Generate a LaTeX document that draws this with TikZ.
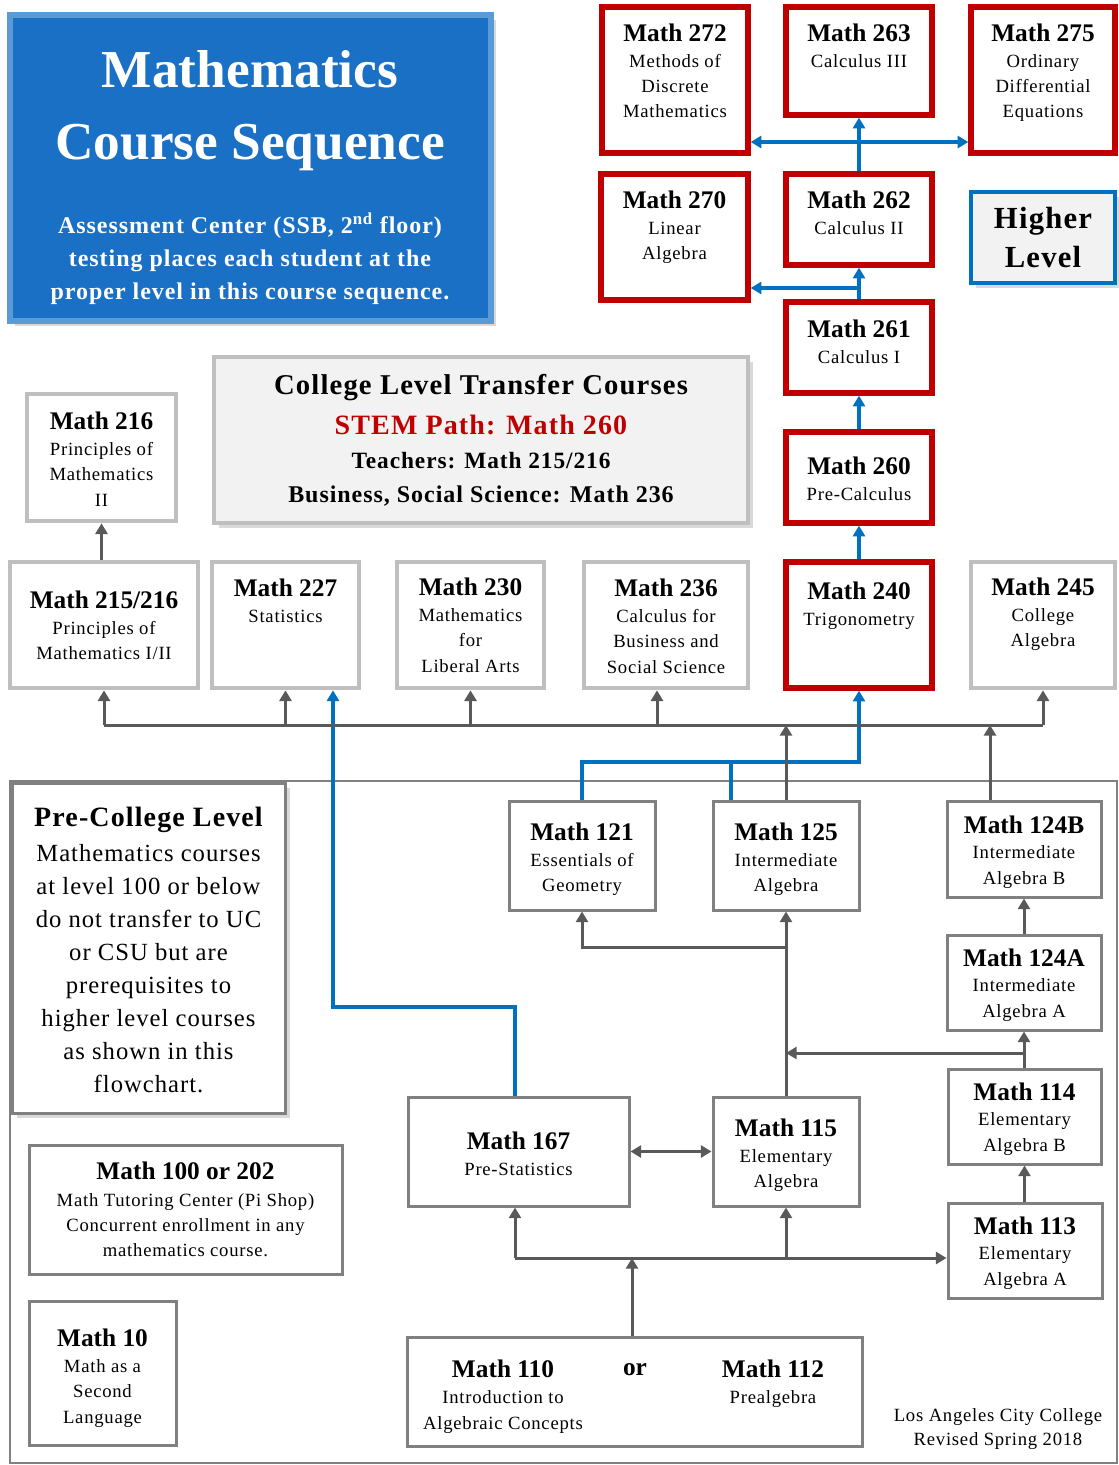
\documentclass[tikz,border=0pt]{standalone}
\usepackage{fontspec}
\setmainfont{Liberation Serif}[LetterSpace=4.0]
\newfontfamily\tightserif{Liberation Serif}
\usetikzlibrary{positioning, arrows.meta, fit, shadows}

\definecolor{lacred}{HTML}{C00000}
\definecolor{lacblue}{HTML}{0070C0}
\definecolor{titleblue}{HTML}{1A70C4}
\definecolor{rimblue}{HTML}{5B9BD5}
\definecolor{linegray}{HTML}{595959}
\definecolor{rimgray}{HTML}{BFBFBF}
\definecolor{boxgray}{HTML}{808080}
\definecolor{panelgray}{HTML}{F2F2F2}
\newdimen\px \px=0.75pt
\newcommand{\crs}[1]{{\fontsize{19}{21}\tightserif\bfseries #1}}

\begin{document}
\begin{tikzpicture}[x=0.75pt, y=-0.75pt, >={Triangle[width=9pt,length=8pt]},
  redbox/.style={draw=lacred, line width=4pt, fill=white, inner sep=0pt},
  greybox/.style={draw=rimgray, line width=3.5pt, fill=white, inner sep=0pt},
  lowbox/.style={draw=boxgray, line width=2.25pt, fill=white, inner sep=0pt},
  panel/.style={fill=panelgray, inner sep=0pt, drop shadow={shadow xshift=4pt, shadow yshift=-4pt, opacity=0.3}},
  txt/.style={align=center, inner sep=0pt, font=\fontsize{14}{19}\selectfont},
  gline/.style={draw=linegray, line width=2.25pt},
  bline/.style={draw=lacblue, line width=2.5pt}]

\useasboundingbox (0,0) rectangle (1119,1465);

% pre-college frame
\draw[boxgray, line width=1.8pt] (10,781) rectangle (1117,1463);

% title block
\node[panel, fill=titleblue, draw=rimblue, line width=5pt, fit={(10,15) (491,321)}] (head) {};
\node[txt, text=white, font=\fontsize{40}{54}\tightserif\bfseries] (headt) at (250,111) {Mathematics\\Course Sequence};
\node[txt, text=white, font=\fontsize{18}{25}\selectfont\bfseries] (heads) at (250,259) {Assessment Center (SSB, 2\textsuperscript{nd} floor)\\testing places each student at the\\proper level in this course sequence.};

% higher level
\node[redbox, fit={(602,7) (748,153)}] (m272) {};
\node[txt, below=19\px of m272.north] (m272t) {\crs{Math 272}\\[0.5pt]Methods of\\Discrete\\Mathematics};
\node[redbox, fit={(786,7) (932,115)}] (m263) {};
\node[txt, below=19\px of m263.north] (m263t) {\crs{Math 263}\\[0.5pt]Calculus III};
\node[redbox, fit={(971,7) (1115,153)}] (m275) {};
\node[txt, below=19\px of m275.north] (m275t) {\crs{Math 275}\\[0.5pt]Ordinary\\Differential\\Equations};
\node[redbox, fit={(601,174) (748,300)}] (m270) {};
\node[txt, below=19\px of m270.north] (m270t) {\crs{Math 270}\\[0.5pt]Linear\\Algebra};
\node[redbox, fit={(786,174) (932,265)}] (m262) {};
\node[txt, below=19\px of m262.north] (m262t) {\crs{Math 262}\\[0.5pt]Calculus II};
\node[panel, draw=lacblue, line width=3.5pt, fit={(971,192) (1115,283)}] (high) {};
\node[txt, font=\fontsize{23}{29}\selectfont\bfseries] (hight) at (high) {Higher\\Level};
\node[redbox, fit={(786,302) (932,393)}] (m261) {};
\node[txt, below=20\px of m261.north] (m261t) {\crs{Math 261}\\[0.5pt]Calculus I};
\node[redbox, fit={(786,432) (932,523)}] (m260) {};
\node[txt, below=27\px of m260.north] (m260t) {\crs{Math 260}\\[0.5pt]Pre-Calculus};
\node[redbox, fit={(786,562) (932,688)}] (m240) {};
\node[txt, below=22\px of m240.north] (m240t) {\crs{Math 240}\\[0.5pt]Trigonometry};

% college level
\node[greybox, fit={(27,394) (176,521)}] (m216) {};
\node[txt, below=20\px of m216.north] (m216t) {\crs{Math 216}\\[0.5pt]Principles of\\Mathematics\\II};
\node[panel, draw=rimgray, line width=3.5pt, fit={(214,357) (748,523)}] (xfer) {};
\node[txt, font=\fontsize{18}{25}\selectfont\bfseries, below=19\px of xfer.north] (xfert) {{\fontsize{21.5}{25}\selectfont College Level Transfer Courses}\\[5pt]{\fontsize{21}{25}\selectfont\color{lacred}STEM Path: Math 260}\\[1pt]{\fontsize{17.5}{25}\selectfont Teachers: Math 215/216}\\Business, Social Science: Math 236};
\node[greybox, fit={(10,562) (198,688)}] (m215) {};
\node[txt, below=31\px of m215.north] (m215t) {\crs{Math 215/216}\\[0.5pt]Principles of\\Mathematics I/II};
\node[greybox, fit={(212,562) (359,688)}] (m227) {};
\node[txt, below=19\px of m227.north] (m227t) {\crs{Math 227}\\[0.5pt]Statistics};
\node[greybox, fit={(397,562) (544,688)}] (m230) {};
\node[txt, below=18\px of m230.north] (m230t) {\crs{Math 230}\\[0.5pt]Mathematics\\for\\Liberal Arts};
\node[greybox, fit={(584,562) (748,688)}] (m236) {};
\node[txt, below=19\px of m236.north] (m236t) {\crs{Math 236}\\[0.5pt]Calculus for\\Business and\\Social Science};
\node[greybox, fit={(971,562) (1115,688)}] (m245) {};
\node[txt, below=18\px of m245.north] (m245t) {\crs{Math 245}\\[0.5pt]College\\Algebra};

% pre-college level
\node[lowbox, panel, fill=white, fit={(12,783) (285,1113)}] (note) {};
\node[txt, font=\fontsize{18.5}{24.75}\selectfont, below=25\px of note.north] (notet) {{\fontsize{21}{25}\selectfont\bfseries Pre-College Level}\\[1.5pt]Mathematics courses\\at level 100 or below\\do not transfer to UC\\or CSU but are\\prerequisites to\\higher level courses\\as shown in this\\flowchart.};
\node[lowbox, fit={(29,1145) (342,1274)}] (m100) {};
\node[txt, font=\fontsize{14}{18.5}\selectfont, below=18\px of m100.north] (m100t) {\crs{Math 100 or 202}\\[2pt]Math Tutoring Center (Pi Shop)\\Concurrent enrollment in any\\mathematics course.};
\node[lowbox, fit={(29,1301) (176,1445)}] (m10) {};
\node[txt, below=29\px of m10.north] (m10t) {\crs{Math 10}\\[0.5pt]Math as a\\Second\\Language};
\node[lowbox, fit={(509,801) (655,910)}] (m121) {};
\node[txt, below=23\px of m121.north] (m121t) {\crs{Math 121}\\[0.5pt]Essentials of\\Geometry};
\node[lowbox, fit={(713,801) (859,910)}] (m125) {};
\node[txt, below=23\px of m125.north] (m125t) {\crs{Math 125}\\[0.5pt]Intermediate\\Algebra};
\node[lowbox, fit={(947,801) (1101,897)}] (m124b) {};
\node[txt, below=16\px of m124b.north] (m124bt) {\crs{Math 124B}\\Intermediate\\Algebra B};
\node[lowbox, fit={(947,935) (1101,1030)}] (m124a) {};
\node[txt, below=15\px of m124a.north] (m124at) {\crs{Math 124A}\\Intermediate\\Algebra A};
\node[lowbox, fit={(948,1069) (1101,1164)}] (m114) {};
\node[txt, below=15\px of m114.north] (m114t) {\crs{Math 114}\\Elementary\\Algebra B};
\node[lowbox, fit={(948,1203) (1102,1298)}] (m113) {};
\node[txt, below=15\px of m113.north] (m113t) {\crs{Math 113}\\Elementary\\Algebra A};
\node[lowbox, fit={(408,1097) (629,1206)}] (m167) {};
\node[txt, below=36\px of m167.north] (m167t) {\crs{Math 167}\\[0.5pt]Pre-Statistics};
\node[lowbox, fit={(713,1097) (859,1206)}] (m115) {};
\node[txt, below=23\px of m115.north] (m115t) {\crs{Math 115}\\[0.5pt]Elementary\\Algebra};
\node[lowbox, fit={(407,1337) (862,1446)}] (m110) {};
\node[txt, anchor=north] (m110t) at (503,1360) {\crs{Math 110}\\[0.5pt]Introduction to\\Algebraic Concepts};
\node[anchor=base, inner sep=0pt, font=\fontsize{19}{21}\tightserif\bfseries] (m110or) at (635,1375) {or};
\node[txt, anchor=north] (m112t) at (773,1360) {\crs{Math 112}\\[0.5pt]Prealgebra};
\node[txt, font=\fontsize{14}{18}\selectfont] (credit) at (998,1429) {Los Angeles City College\\Revised Spring 2018};

% junctions
\coordinate (hub) at (859,142);
\coordinate (lin) at (859,288);
\coordinate (bus) at (0,725);
\coordinate (stem) at (0,762);
\coordinate (geo) at (0,947);
\coordinate (stat) at (0,1007);
\coordinate (alg) at (0,1053);
\coordinate (pre) at (0,1258);
\coordinate (j227) at (333,0);
\coordinate (j236) at (657,0);
\coordinate (j167) at (515,0);
\coordinate (j110) at (632,0);
\coordinate (j125) at (731,0);
\coordinate (j124) at (990,0);

% STEM path
\draw[bline,->] (m240) -- (m260);
\draw[bline,->] (m260) -- (m261);
\draw[bline,->] (m261) -- (m262);
\draw[bline,->] (lin) -- (m270.east |- lin);
\draw[bline,->] (m262) -- (m263);
\draw[bline,<->] (m272.east |- hub) -- (m275.west |- hub);
\draw[bline,->] (m121.north) -- (m121.north |- stem) -- (m240.south |- stem) -- (m240.south);
\draw[bline] (m125.north -| j125) -- (stem -| j125);
\draw[bline,->] (m167.north -| j167) -- (stat -| j167) -- (stat -| j227) -- (m227.south -| j227);

% college bus
\draw[gline,->] (m215.north -| m216) -- (m216.south);
\draw[gline] (bus -| m215) -- (bus -| m245);
\foreach \n in {m215,m227,m230,m245}
  \draw[gline,->] (bus -| \n) -- (\n.south);
\draw[gline,->] (bus -| j236) -- (m236.south -| j236);
\draw[gline,->] (m125.north) -- (bus -| m125.north);
\draw[gline,->] (m124b.north -| j124) -- (bus -| j124);

% pre-college links
\draw[gline,->] (m115) -- (m125);
\draw[gline,->] (m115.north |- geo) -- (geo -| m121) -- (m121.south);
\draw[gline,->] (m124a) -- (m124b);
\draw[gline,->] (m114.north -| m124a) -- (m124a.south);
\draw[gline,->] (m124a.south |- alg) -- (alg -| m115);
\draw[gline,->] (m113.north -| m114) -- (m114.south);
\draw[gline,<->] (m167) -- (m115);
\draw[gline,->] (m110.north -| j110) -- (pre -| j110);
\draw[gline,->] (pre -| j167) -- (m113.west |- pre);
\draw[gline,->] (pre -| j167) -- (m167.south -| j167);
\draw[gline,->] (pre -| m115) -- (m115.south);
\end{tikzpicture}
\end{document}
